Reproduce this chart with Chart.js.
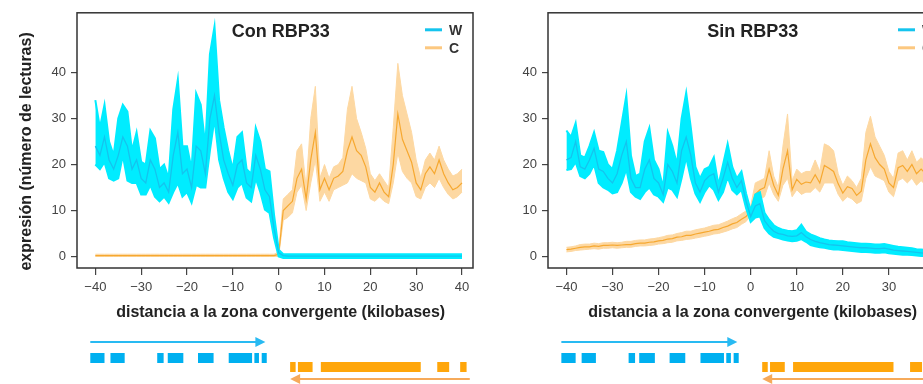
<!DOCTYPE html>
<html>
<head>
<meta charset="utf-8">
<script src="https://cdn.jsdelivr.net/npm/chart.js@4.4.1/dist/chart.umd.min.js"></script>
<style>
html, body { margin: 0; padding: 0; background: #fff; overflow: hidden; width: 923px; height: 384px; }
canvas { position: absolute; top: 0; }
#con { left: 0; }
#sin { left: 470px; }
</style>
</head>
<body>
<canvas id="con" width="480" height="384"></canvas>
<canvas id="sin" width="480" height="384"></canvas>
<script>
// distance to convergent zone, kb
var kb = [-40,-39,-38,-37,-36,-35,-34,-33,-32,-31,-30,-29,-28,-27,-26,-25,-24,-23,-22,-21,
          -20,-19,-18,-17,-16,-15,-14,-13,-12,-11,-10,-9,-8,-7,-6,-5,-4,-3,-2,-1,
          0,1,2,3,4,5,6,7,8,9,10,11,12,13,14,15,16,17,18,19,
          20,21,22,23,24,25,26,27,28,29,30,31,32,33,34,35,36,37,38,39,40];
var xTicks = [-40,-30,-20,-10,0,10,20,30,40];
var yTicks = [0,10,20,30,40];
var seriesNames = ['W','C'];
var panelTitles = ['Con RBP33','Sin RBP33'];
var xTitle = 'distancia a la zona convergente (kilobases)';
var yTitle = 'expresión (número de lecturas)';

// Con RBP33 - W
var conWMean = [24,22,26,21,19,22,26,24,19,21,17,16,21,19,15,16,14,22,27,18,
                19,15,24,23,18,30,35,27,21,18,15.5,20,21,16,15,22,19,14.5,13,6,
                0.8,0.2,0.1,0.1,0.1,0.1,0.1,0.1,0.1,0.1,0.1,0.1,0.1,0.1,0.1,0.1,0.1,0.1,0.1,0.1,
                0.1,0.1,0.1,0.1,0.1,0.1,0.1,0.1,0.1,0.1,0.1,0.1,0.1,0.1,0.1,0.1,0.1,0.1,0.1,0.1,0.1];
var conWLo = [20,19,20.5,17,16.5,17,22,16.5,16,16,13.5,13.5,15.5,13,12,13,11.7,14,16,13,
              14,11.7,15.6,15,15,23,30,21,17,14,12.5,15,16,12.8,12,17,14,10.2,9.5,4,
              0,-0.3,-0.3,-0.3,-0.3,-0.3,-0.3,-0.3,-0.3,-0.3,-0.3,-0.3,-0.3,-0.3,-0.3,-0.3,-0.3,-0.3,-0.3,-0.3,
              -0.3,-0.3,-0.3,-0.3,-0.3,-0.3,-0.3,-0.3,-0.3,-0.3,-0.3,-0.3,-0.3,-0.3,-0.3,-0.3,-0.3,-0.3,-0.3,-0.3,-0.3];
var conWHi = [34,28,33,25,22,30,33,31.5,23,27,20.6,20,27.4,25.7,19,20,17,32,38.5,24,
              24,19,35.5,33,24,44,50,34,28,23,19,26,27,19,18,28,25,19,18.5,9,
              1.5,0.5,0.5,0.5,0.5,0.5,0.5,0.5,0.5,0.5,0.5,0.5,0.5,0.5,0.5,0.5,0.5,0.5,0.5,0.5,
              0.5,0.5,0.5,0.5,0.5,0.5,0.5,0.5,0.5,0.5,0.5,0.5,0.5,0.5,0.5,0.5,0.5,0.5,0.5,0.5,0.5];

// Con RBP33 - C
var conCMean = [0.2,0.2,0.2,0.2,0.2,0.2,0.2,0.2,0.2,0.2,0.2,0.2,0.2,0.2,0.2,0.2,0.2,0.2,0.2,0.2,
                0.2,0.2,0.2,0.2,0.2,0.2,0.2,0.2,0.2,0.2,0.2,0.2,0.2,0.2,0.2,0.2,0.2,0.2,0.2,0.2,
                0.5,10,11,12,17,19,12.5,21,27,14.5,17,14.5,17,17.5,18.5,23,26,23,22,19.5,
                15,14,16,14,13,20,31,25.5,23,20.5,16,14.5,18,19.5,18,21,18,16,14.5,15,16];
var conCLo = [0,0,0,0,0,0,0,0,0,0,0,0,0,0,0,0,0,0,0,0,
              0,0,0,0,0,0,0,0,0,0,0,0,0,0,0,0,0,0,0,0,
              0,7.9,8.5,9.5,14,15.5,10,16,21,12,14,12,14.5,15,15.5,16,18,17,16.5,16,
              12.5,12,13,12,11.5,16,22.5,18.5,17,16,13,12.5,15,16,15,17,15,13.5,12.5,13,14];
var conCHi = [0.5,0.5,0.5,0.5,0.5,0.5,0.5,0.5,0.5,0.5,0.5,0.5,0.5,0.5,0.5,0.5,0.5,0.5,0.5,0.5,
              0.5,0.5,0.5,0.5,0.5,0.5,0.5,0.5,0.5,0.5,0.5,0.5,0.5,0.5,0.5,0.5,0.5,0.5,0.5,0.5,
              1,12.5,13.5,14.5,23,24.5,15,30,37,17,20,17,19.5,20,21.5,32,37,30,27,23.5,
              18,16.5,18,16.5,15,28,42,35,31,27,21,17,21,22.5,21,24,21,19,17.5,18,19];

// Sin RBP33 - W
var sinWMean = [21,21.5,25,19.5,19,21,23.5,19,18.5,17,16,18,22,25,17,15,15,19,21,17,
                16,13.5,20,18.5,16,23,26,22,16,14,16.5,17.5,18,14,17,20.5,17,15,16.5,12,
                8.7,11,11.5,7.8,6.5,5.5,5,4.8,4.5,4.4,4.5,5.2,4.3,3.7,3.3,3,2.8,2.6,2.5,2.4,
                2.3,2.2,2.1,2,1.9,1.9,1.8,1.7,1.7,1.8,1.6,1.4,1.3,1.2,1.1,1.0,0.9,0.8,0.7,0.7,0.6];
var sinWLo = [18.8,19,20.5,17.5,17,18,20,16,15,14.5,13.7,14,16,19,14,13,12.5,14,15,13.5,
              13,11.9,15,14.5,13,17,21.6,17,13.7,11.9,14,15.5,14.5,12.3,14,17.3,14.5,13.5,14.5,10.5,
              7.5,8.5,8.7,6.2,5,4.3,4,3.7,3.5,3.3,3.4,3.8,3.2,2.5,2.2,2,1.9,1.7,1.5,1.5,
              1.4,1.3,1.2,1.1,1.0,1.0,0.9,0.8,0.8,0.9,0.7,0.6,0.5,0.4,0.4,0.3,0.2,0.1,0.1,0.1,0];
var sinWHi = [27.4,26,29,22,21.5,24,27,23,22.7,20,19,23,29,35,22,17.5,18,25,28,21,
              19,15,27,24,20,30,35.6,28,19.5,17,19,19.5,21.6,15.5,20,24.5,19.5,17,18.5,13.7,
              10,13.5,14,9.5,8,6.8,6.2,5.8,5.6,5.5,5.7,6.9,5.4,4.8,4.4,4,3.7,3.5,3.4,3.3,
              3.3,3.1,3,2.9,2.8,2.8,2.7,2.6,2.6,2.7,2.5,2.3,2.1,2,1.9,1.8,1.6,1.5,1.4,1.4,1.3];

// Sin RBP33 - C
var sinCMean = [1.5,1.6,1.8,2.0,2.1,2.1,2.3,2.2,2.4,2.4,2.5,2.4,2.5,2.6,2.6,2.8,2.9,2.9,3.1,3.2,
                3.4,3.5,3.8,3.9,4.2,4.3,4.6,4.6,4.9,5.1,5.3,5.5,5.8,5.9,6.3,6.6,7.1,7.4,8.1,8.7,
                10,13.5,14.5,15,19,15.5,13.3,19,23,14.5,16.8,15.7,16.2,16,17.8,16,19.8,19.2,18.5,15.8,
                13.8,15.2,14.8,13.3,14.2,21,24.5,21.5,20,19,16,15,19.3,19.8,18.5,20,18,19,18,17.5,18];
var sinCLo = [1.0,1.1,1.3,1.4,1.5,1.6,1.7,1.6,1.8,1.8,1.9,1.8,1.9,2.0,2.0,2.2,2.3,2.3,2.4,2.5,
              2.7,2.8,3.0,3.1,3.4,3.5,3.7,3.8,4.0,4.2,4.4,4.6,4.9,5.0,5.3,5.6,6.0,6.3,7.0,7.6,
              9,11.5,12.5,13,16,13.5,12,15.5,17,13,14.5,13.5,14,14,15,14,16,16,16,13.5,
              12,13,12.5,11.5,12,17,19.5,17.5,17,16.5,14,13,16.5,17,16,17,15.5,16.5,15.5,15,15.5];
var sinCHi = [2.0,2.1,2.3,2.6,2.7,2.7,2.9,2.8,3.0,3.0,3.1,3.0,3.1,3.3,3.3,3.5,3.6,3.6,3.8,3.9,
              4.1,4.3,4.6,4.7,5.0,5.2,5.5,5.5,5.8,6.0,6.2,6.5,6.8,6.9,7.3,7.7,8.2,8.6,9.3,9.9,
              11,16,16.5,17,23,17.5,15,24,31,16.5,19,18,18.5,18.5,21,18.5,24.5,24,23,18,
              15.5,17.5,16.5,15,17,27,30.5,26,24,22,18.5,17,22.5,23,21,23,20.5,21.5,20.5,20,20.5];

// gene models under the plots, kb [start, end]
var wGeneArrow = [-41.1, -2.9];
var wExons = [[-41.1,-38.0],[-36.7,-33.6],[-26.5,-25.1],[-24.2,-20.8],[-17.6,-14.2],
              [-10.9,-5.8],[-5.3,-4.3],[-3.7,-2.6]];
var cGeneArrow = [41.7, 2.5];
var cExons = [[2.5,3.7],[4.2,7.4],[9.2,31.0],[34.6,37.2],[39.6,41.0]];

var FONT = '"Liberation Sans", Arial, Helvetica, sans-serif';
var W_BAND = 'rgb(0,236,255)', W_LINE = 'rgb(20,196,238)';
var C_BAND = 'rgb(253,216,162)', C_LINE = 'rgb(246,168,48)';

var panelDeco = {
    id: 'panelDeco',
    afterDraw: function (chart, args, opts) {
        var ctx = chart.ctx, a = chart.chartArea, xs = chart.scales.x;
        var cx = xs.getPixelForValue(0);
        ctx.save();
        // box
        ctx.strokeStyle = '#333';
        ctx.lineWidth = 1.5;
        ctx.strokeRect(a.left, a.top, a.right - a.left, a.bottom - a.top);
        // titles
        ctx.fillStyle = '#222';
        ctx.textAlign = 'center';
        ctx.textBaseline = 'middle';
        ctx.font = 'bold 18px ' + FONT;
        ctx.fillText(opts.title, cx + 2, a.top + 19);
        ctx.font = 'bold 16px ' + FONT;
        ctx.fillText(xTitle, cx + 2, a.bottom + 45);
        if (opts.yTitle) {
            ctx.save();
            ctx.translate(a.left - 50, (a.top + a.bottom) / 2 + 11);
            ctx.rotate(-Math.PI / 2);
            ctx.fillText(yTitle, 0, 0);
            ctx.restore();
        }
        // legend
        var cols = [W_LINE, 'rgb(252,200,128)'];
        ctx.font = 'bold 14px ' + FONT;
        ctx.textAlign = 'left';
        ctx.lineWidth = 3;
        for (var i = 0; i < seriesNames.length; i++) {
            var ly = a.top + 17 + i * 18;
            ctx.strokeStyle = cols[i];
            ctx.beginPath();
            ctx.moveTo(a.right - 48, ly);
            ctx.lineTo(a.right - 31, ly);
            ctx.stroke();
            ctx.fillStyle = '#333';
            ctx.fillText(seriesNames[i], a.right - 24, ly + 1);
        }
        // gene models
        var px = function (v) { return xs.getPixelForValue(v); };
        var y0 = a.bottom;
        // W arrow (points right)
        ctx.strokeStyle = 'rgb(40,186,242)';
        ctx.fillStyle = 'rgb(40,186,242)';
        ctx.lineWidth = 2.2;
        var ay = y0 + 74, ax1 = px(wGeneArrow[0]), ax2 = px(wGeneArrow[1]);
        ctx.beginPath(); ctx.moveTo(ax1, ay); ctx.lineTo(ax2 - 8, ay); ctx.stroke();
        ctx.beginPath(); ctx.moveTo(ax2, ay); ctx.lineTo(ax2 - 10, ay - 5); ctx.lineTo(ax2 - 10, ay + 5); ctx.closePath(); ctx.fill();
        ctx.fillStyle = 'rgb(0,176,240)';
        wExons.forEach(function (e) {
            ctx.fillRect(px(e[0]), y0 + 85, px(e[1]) - px(e[0]), 10);
        });
        // C blocks and arrow (points left)
        ctx.fillStyle = 'rgb(255,166,10)';
        cExons.forEach(function (e) {
            ctx.fillRect(px(e[0]), y0 + 94, px(e[1]) - px(e[0]), 10);
        });
        ctx.strokeStyle = 'rgb(246,170,90)';
        ctx.fillStyle = 'rgb(246,170,90)';
        var by = y0 + 111, bx1 = px(cGeneArrow[0]), bx2 = px(cGeneArrow[1]);
        ctx.beginPath(); ctx.moveTo(bx1, by); ctx.lineTo(bx2 + 8, by); ctx.stroke();
        ctx.beginPath(); ctx.moveTo(bx2, by); ctx.lineTo(bx2 + 10, by - 5); ctx.lineTo(bx2 + 10, by + 5); ctx.closePath(); ctx.fill();
        ctx.restore();
    }
};

function minus(v) {
    return v < 0 ? '\u2212' + Math.abs(v) : String(v);
}

function makeChart(id, title, wMean, wLo, wHi, cMean, cLo, cHi, showYTitle, padRight) {
    var ctx = document.getElementById(id).getContext('2d');
    return new Chart(ctx, {
        type: 'line',
        data: {
            labels: kb,
            datasets: [
                {label: seriesNames[0], data: wMean, borderColor: W_LINE, borderWidth: 1.3, pointRadius: 0, fill: false},
                {label: 'W hi', data: wHi, borderWidth: 2, borderColor: W_BAND, pointRadius: 0, fill: '+1', backgroundColor: W_BAND},
                {label: 'W lo', data: wLo, borderWidth: 2, borderColor: W_BAND, pointRadius: 0, fill: false},
                {label: seriesNames[1], data: cMean, borderColor: C_LINE, borderWidth: 1.2, pointRadius: 0, fill: false},
                {label: 'C hi', data: cHi, borderWidth: 1, borderColor: C_BAND, pointRadius: 0, fill: '+1', backgroundColor: C_BAND},
                {label: 'C lo', data: cLo, borderWidth: 1, borderColor: C_BAND, pointRadius: 0, fill: false}
            ]
        },
        options: {
            responsive: false,
            animation: false,
            devicePixelRatio: 1,
            layout: {padding: {left: 0, top: 10, right: padRight, bottom: 0}},
            plugins: {
                legend: {display: false},
                tooltip: {enabled: false},
                panelDeco: {title: title, yTitle: showYTitle}
            },
            scales: {
                x: {
                    type: 'linear',
                    min: -44,
                    max: 42.4,
                    afterBuildTicks: function (s) { s.ticks = xTicks.map(function (v) { return {value: v}; }); },
                    afterFit: function (s) { s.height = 116; },
                    ticks: {
                        autoSkip: false, maxRotation: 0, padding: 5, color: '#444',
                        font: {family: FONT, size: 13},
                        callback: function (v) { return minus(v); }
                    },
                    grid: {drawOnChartArea: false, drawTicks: true, tickLength: 7, color: '#444', lineWidth: 1.2},
                    border: {display: false}
                },
                y: {
                    min: -2.5,
                    max: 53,
                    afterBuildTicks: function (s) { s.ticks = yTicks.map(function (v) { return {value: v}; }); },
                    afterFit: function (s) { s.width = showYTitle ? 77 : 78; },
                    ticks: {
                        padding: 5, color: '#444',
                        font: {family: FONT, size: 13},
                        callback: function (v) { return minus(v); }
                    },
                    grid: {drawOnChartArea: false, drawTicks: true, tickLength: 6, color: '#444', lineWidth: 1.2},
                    border: {display: false}
                }
            }
        },
        plugins: [panelDeco]
    });
}

makeChart('con', panelTitles[0], conWMean, conWLo, conWHi, conCMean, conCLo, conCHi, true, 7);
makeChart('sin', panelTitles[1], sinWMean, sinWLo, sinWHi, sinCMean, sinCLo, sinCHi, false, 4);
</script>
</body>
</html>
